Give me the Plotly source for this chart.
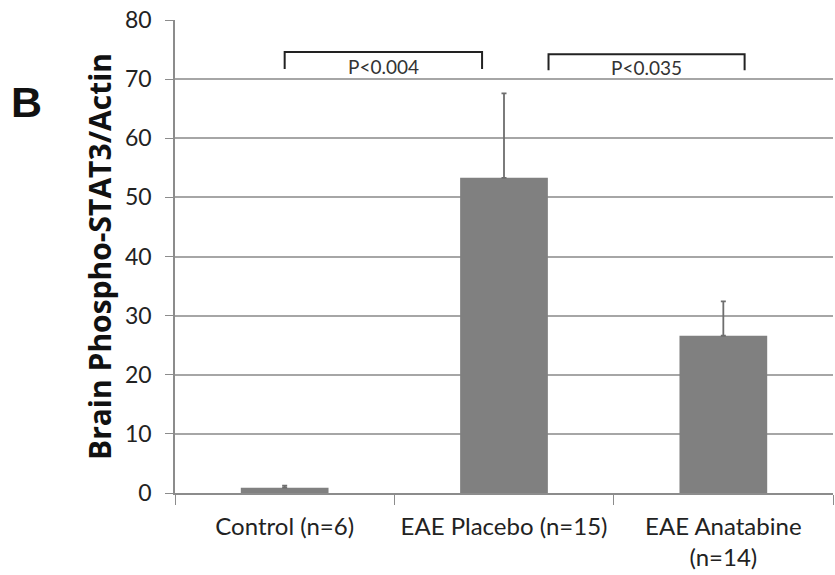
import plotly.graph_objects as go

categories = ["Control (n=6)", "EAE Placebo (n=15)", "EAE Anatabine<br>(n=14)"]
means = [0.9, 53.3, 26.6]
errors_up = [0.35, 14.3, 5.8]
y_ticks = [0, 10, 20, 30, 40, 50, 60, 70, 80]

# significance brackets: (left pos, right pos, top y, leg bottom y, label)
bracket_left = [0.0, 1.203]
bracket_right = [0.90, 2.097]
bracket_top = [74.6, 74.2]
bracket_bottom = [71.7, 71.5]
bracket_labels = ["P<0.004", "P<0.035"]

FONT = "Lato, Open Sans, sans-serif"

fig = go.Figure()
fig.add_trace(go.Bar(
    x=categories, y=means,
    marker=dict(color="#808080", line=dict(width=0)),
    width=0.4,
    error_y=dict(type="data", array=errors_up, arrayminus=[0, 0, 0], symmetric=False,
                 color="#6e6e6e", thickness=1.8, width=2.5),
))

for l, r, t, b, lab in zip(bracket_left, bracket_right, bracket_top, bracket_bottom, bracket_labels):
    fig.add_shape(type="path", xref="x", yref="y",
                  path=f"M {l},{b} L {l},{t} L {r},{t} L {r},{b}",
                  line=dict(color="#222222", width=2))
    fig.add_annotation(x=(l + r) / 2, y=(t + b) / 2 - 0.95, xref="x", yref="y",
                       text=lab, showarrow=False, xanchor="center", yanchor="middle",
                       font=dict(family=FONT, size=19, color="#333333"))

fig.add_annotation(x=-0.2264, y=0.8266, xref="paper", yref="paper", text="<b>B</b>",
                   xanchor="center", yanchor="middle",
                   showarrow=False, font=dict(family="Liberation Sans, Arial", size=43, color="#111111"))

fig.update_layout(
    width=835, height=575,
    margin=dict(l=175, r=2, t=20, b=82),
    paper_bgcolor="white", plot_bgcolor="white",
    showlegend=False,
    font=dict(family=FONT, size=24, color="#222222"),
    xaxis=dict(type="category", tickson="boundaries", ticks="outside", ticklen=10,
               tickcolor="#8c8c8c", showline=True, linecolor="#8c8c8c", linewidth=1.5,
               showgrid=False, tickfont=dict(family=FONT, size=24, color="#222222"),
               range=[-0.5, 2.5], ticklabelstandoff=11, tickangle=0, automargin=False),
    yaxis=dict(range=[0, 80], tickvals=y_ticks, ticks="outside", ticklen=8,
               tickcolor="#8c8c8c", showline=True, linecolor="#8c8c8c", linewidth=1.5,
               showgrid=True, gridcolor="#a6a6a6", gridwidth=1.5, zeroline=False,
               tickfont=dict(family=FONT, size=23, color="#222222"), ticklabelstandoff=9,
               automargin=False,
               title=dict(text="<b>Brain Phospho-STAT3/Actin</b>",
                          font=dict(family="Open Sans, Liberation Sans", size=30, color="#111111"),
                          standoff=4)),
)

fig.write_html("out.html")
